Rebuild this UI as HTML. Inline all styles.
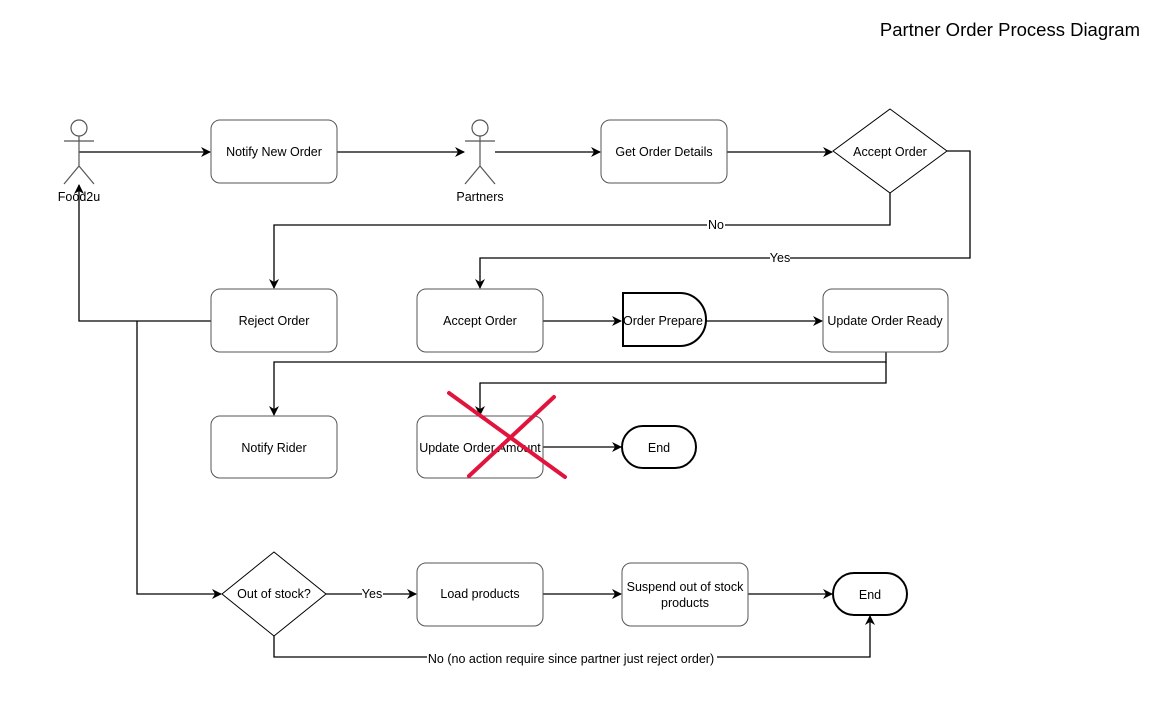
<!DOCTYPE html>
<html><head><meta charset="utf-8"><style>body{margin:0;background:#fff}svg{display:block;font-family:"Liberation Sans",Arial,sans-serif}</style></head><body>
<svg width="1156" height="705" viewBox="0 0 1156 705" xmlns="http://www.w3.org/2000/svg">
<defs><marker id="a" markerWidth="10" markerHeight="10" refX="9" refY="5" orient="auto" markerUnits="userSpaceOnUse"><path d="M0,0 L10,5 L0,10 L3,5 Z" fill="#000"/></marker></defs>
<text x="1140" y="36" font-size="18.5" text-anchor="end">Partner Order Process Diagram</text>
<g fill="none" stroke="#000" stroke-width="1.3">
<path d="M79,152 H210" marker-end="url(#a)"/>
<path d="M337,152 H464" marker-end="url(#a)"/>
<path d="M495,152 H600" marker-end="url(#a)"/>
<path d="M727,152 H832" marker-end="url(#a)"/>
<path d="M890,193 V225 H274 V288" marker-end="url(#a)"/>
<path d="M947,151 H970 V258 H480 V288" marker-end="url(#a)"/>
<path d="M211,321 H79 V185" marker-end="url(#a)"/>
<path d="M137,321 V594 H221" marker-end="url(#a)"/>
<path d="M543,321 H621" marker-end="url(#a)"/>
<path d="M706,321 H822" marker-end="url(#a)"/>
<path d="M886,352 V362 H274 V415" marker-end="url(#a)"/>
<path d="M886,362 V383 H480 V415" marker-end="url(#a)"/>
<path d="M543,447 H621" marker-end="url(#a)"/>
<path d="M326,594 H416" marker-end="url(#a)"/>
<path d="M543,594 H621" marker-end="url(#a)"/>
<path d="M748,594 H832" marker-end="url(#a)"/>
<path d="M274,636 V657 H870 V616" marker-end="url(#a)"/>
</g>
<g font-size="12.5" text-anchor="middle">
<rect x="707" y="218" width="18" height="14" fill="#fff"/><text x="716" y="229">No</text>
<rect x="770" y="251" width="20" height="14" fill="#fff"/><text x="780" y="262">Yes</text>
<rect x="362" y="587" width="21" height="14" fill="#fff"/><text x="372" y="598">Yes</text>
<rect x="427" y="651" width="290" height="14" fill="#fff"/><text x="571" y="663">No (no action require since partner just reject order)</text>
</g>
<g fill="#fff" stroke="#555" stroke-width="1">
<rect x="211" y="120" width="126" height="63" rx="9"/>
<rect x="601" y="120" width="126" height="63" rx="9"/>
<rect x="211" y="289" width="126" height="63" rx="9"/>
<rect x="417" y="289" width="126" height="63" rx="9"/>
<rect x="823" y="289" width="125" height="63" rx="9"/>
<rect x="211" y="416" width="126" height="62" rx="9"/>
<rect x="417" y="416" width="126" height="62" rx="9"/>
<rect x="417" y="563" width="126" height="63" rx="9"/>
<rect x="622" y="563" width="126" height="63" rx="9"/>
<path d="M890,109 L947,151 L890,193 L833,151 Z" stroke="#000"/>
<path d="M274,552 L326,594 L274,636 L222,594 Z" stroke="#000"/>
</g>
<g fill="#fff" stroke="#000" stroke-width="2">
<path d="M623,293 H680 A26,26.5 0 0 1 680,346 H623 Z"/>
<rect x="622" y="426" width="74" height="42" rx="21"/>
<rect x="833" y="573" width="74" height="42" rx="21"/>
</g>
<g fill="none" stroke="#555" stroke-width="1.2">
<circle cx="79" cy="128" r="8" fill="#fff"/><path d="M79,136 V166 M64,141 H94 M79,166 L64,184 M79,166 L94,184"/>
<circle cx="480" cy="128" r="8" fill="#fff"/><path d="M480,136 V166 M465,141 H495 M480,166 L465,184 M480,166 L495,184"/>
</g>
<g font-size="12.5" text-anchor="middle">
<text x="79" y="201">Food2u</text>
<text x="480" y="201">Partners</text>
<text x="274" y="156">Notify New Order</text>
<text x="664" y="156">Get Order Details</text>
<text x="890" y="156">Accept Order</text>
<text x="274" y="325">Reject Order</text>
<text x="480" y="325">Accept Order</text>
<text x="663" y="325">Order Prepare</text>
<text x="885" y="325">Update Order Ready</text>
<text x="274" y="452">Notify Rider</text>
<text x="480" y="452">Update Order Amount</text>
<text x="659" y="452">End</text>
<text x="274" y="598">Out of stock?</text>
<text x="480" y="598">Load products</text>
<text x="685" y="591">Suspend out of stock</text>
<text x="685" y="607">products</text>
<text x="870" y="599">End</text>
</g>
<g stroke="#e0143c" stroke-width="4" stroke-linecap="round">
<path d="M449,393 L565,477"/><path d="M554,397 L469,476"/>
</g>
</svg>
</body></html>
